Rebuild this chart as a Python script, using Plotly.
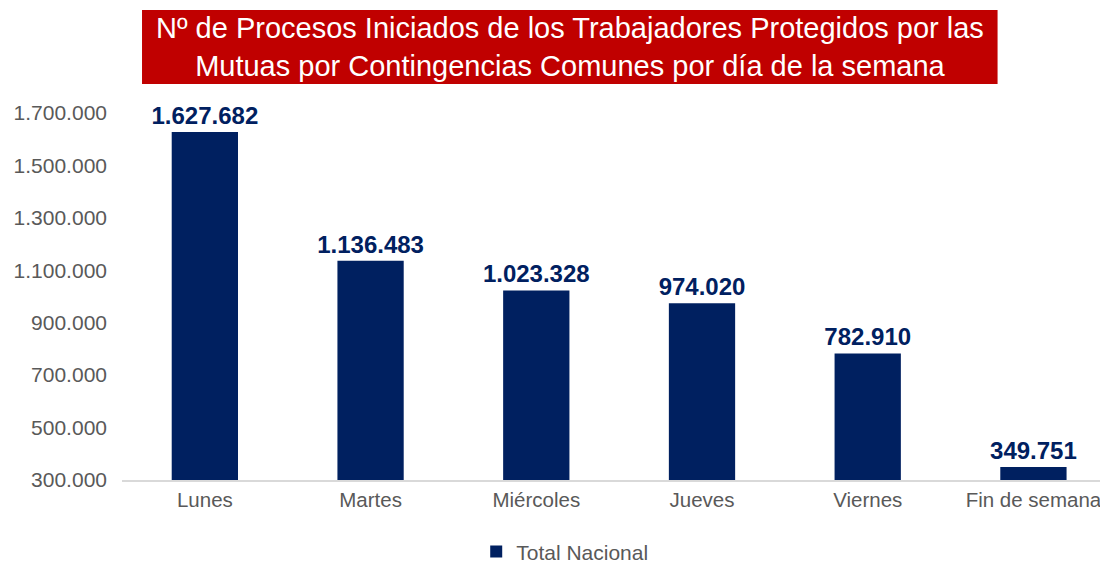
import plotly.graph_objects as go

categories = ["Lunes", "Martes", "Miércoles", "Jueves", "Viernes", "Fin de semana"]
values = [1627682, 1136483, 1023328, 974020, 782910, 349751]
labels = ["1.627.682", "1.136.483", "1.023.328", "974.020", "782.910", "349.751"]
tick_vals = [300000, 500000, 700000, 900000, 1100000, 1300000, 1500000, 1700000]
tick_text = ["300.000", "500.000", "700.000", "900.000", "1.100.000", "1.300.000", "1.500.000", "1.700.000"]
series_name = "Total Nacional"
title_lines = ["Nº de Procesos Iniciados de los Trabajadores Protegidos por las",
               "Mutuas por Contingencias Comunes por día de la semana"]

navy = "#002060"
fig = go.Figure()
fig.add_trace(go.Bar(
    x=categories, y=values, name=series_name,
    marker=dict(color=navy, line=dict(width=0)),
    width=0.4,
    text=labels, textposition="outside", cliponaxis=False, constraintext="none",
    textfont=dict(family="Liberation Sans, Arial", size=24, color=navy, weight="bold"),
))

# page body has an 8px margin, so the figure is 8px smaller and offset
fig.update_layout(
    width=1100, height=555,
    margin=dict(l=114, r=0, t=105, b=83, autoexpand=False),
    paper_bgcolor="white", plot_bgcolor="white",
    font=dict(family="Liberation Sans, Arial", size=21, color="#595959"),
    showlegend=True,
    legend=dict(orientation="h", x=0.449, xanchor="center", y=-0.196, yanchor="middle",
                font=dict(size=21, color="#595959"), itemwidth=30),
)
fig.update_xaxes(range=[-0.5, 5.45], showline=True, linecolor="#D9D9D9", linewidth=2,
                 ticks="", showgrid=False, tickfont=dict(size=20.5, color="#595959"))
fig.update_yaxes(range=[300000, 1700000], tickvals=tick_vals, ticktext=tick_text,
                 showgrid=False, zeroline=False, showline=False, ticks="",
                 ticklabelstandoff=14, tickfont=dict(size=21, color="#595959"))

fig.add_shape(type="rect", xref="paper", yref="paper",
              x0=0.0203, x1=0.888, y0=1.079, y1=1.2807,
              fillcolor="#C00000", line=dict(width=0), layer="above")
fig.add_annotation(xref="paper", yref="paper", x=0.4544, y=1.18,
                   xanchor="center", yanchor="middle", showarrow=False,
                   text="<br>".join(title_lines),
                   font=dict(family="Liberation Sans", size=29, color="white"))

fig.write_html("out.html")
